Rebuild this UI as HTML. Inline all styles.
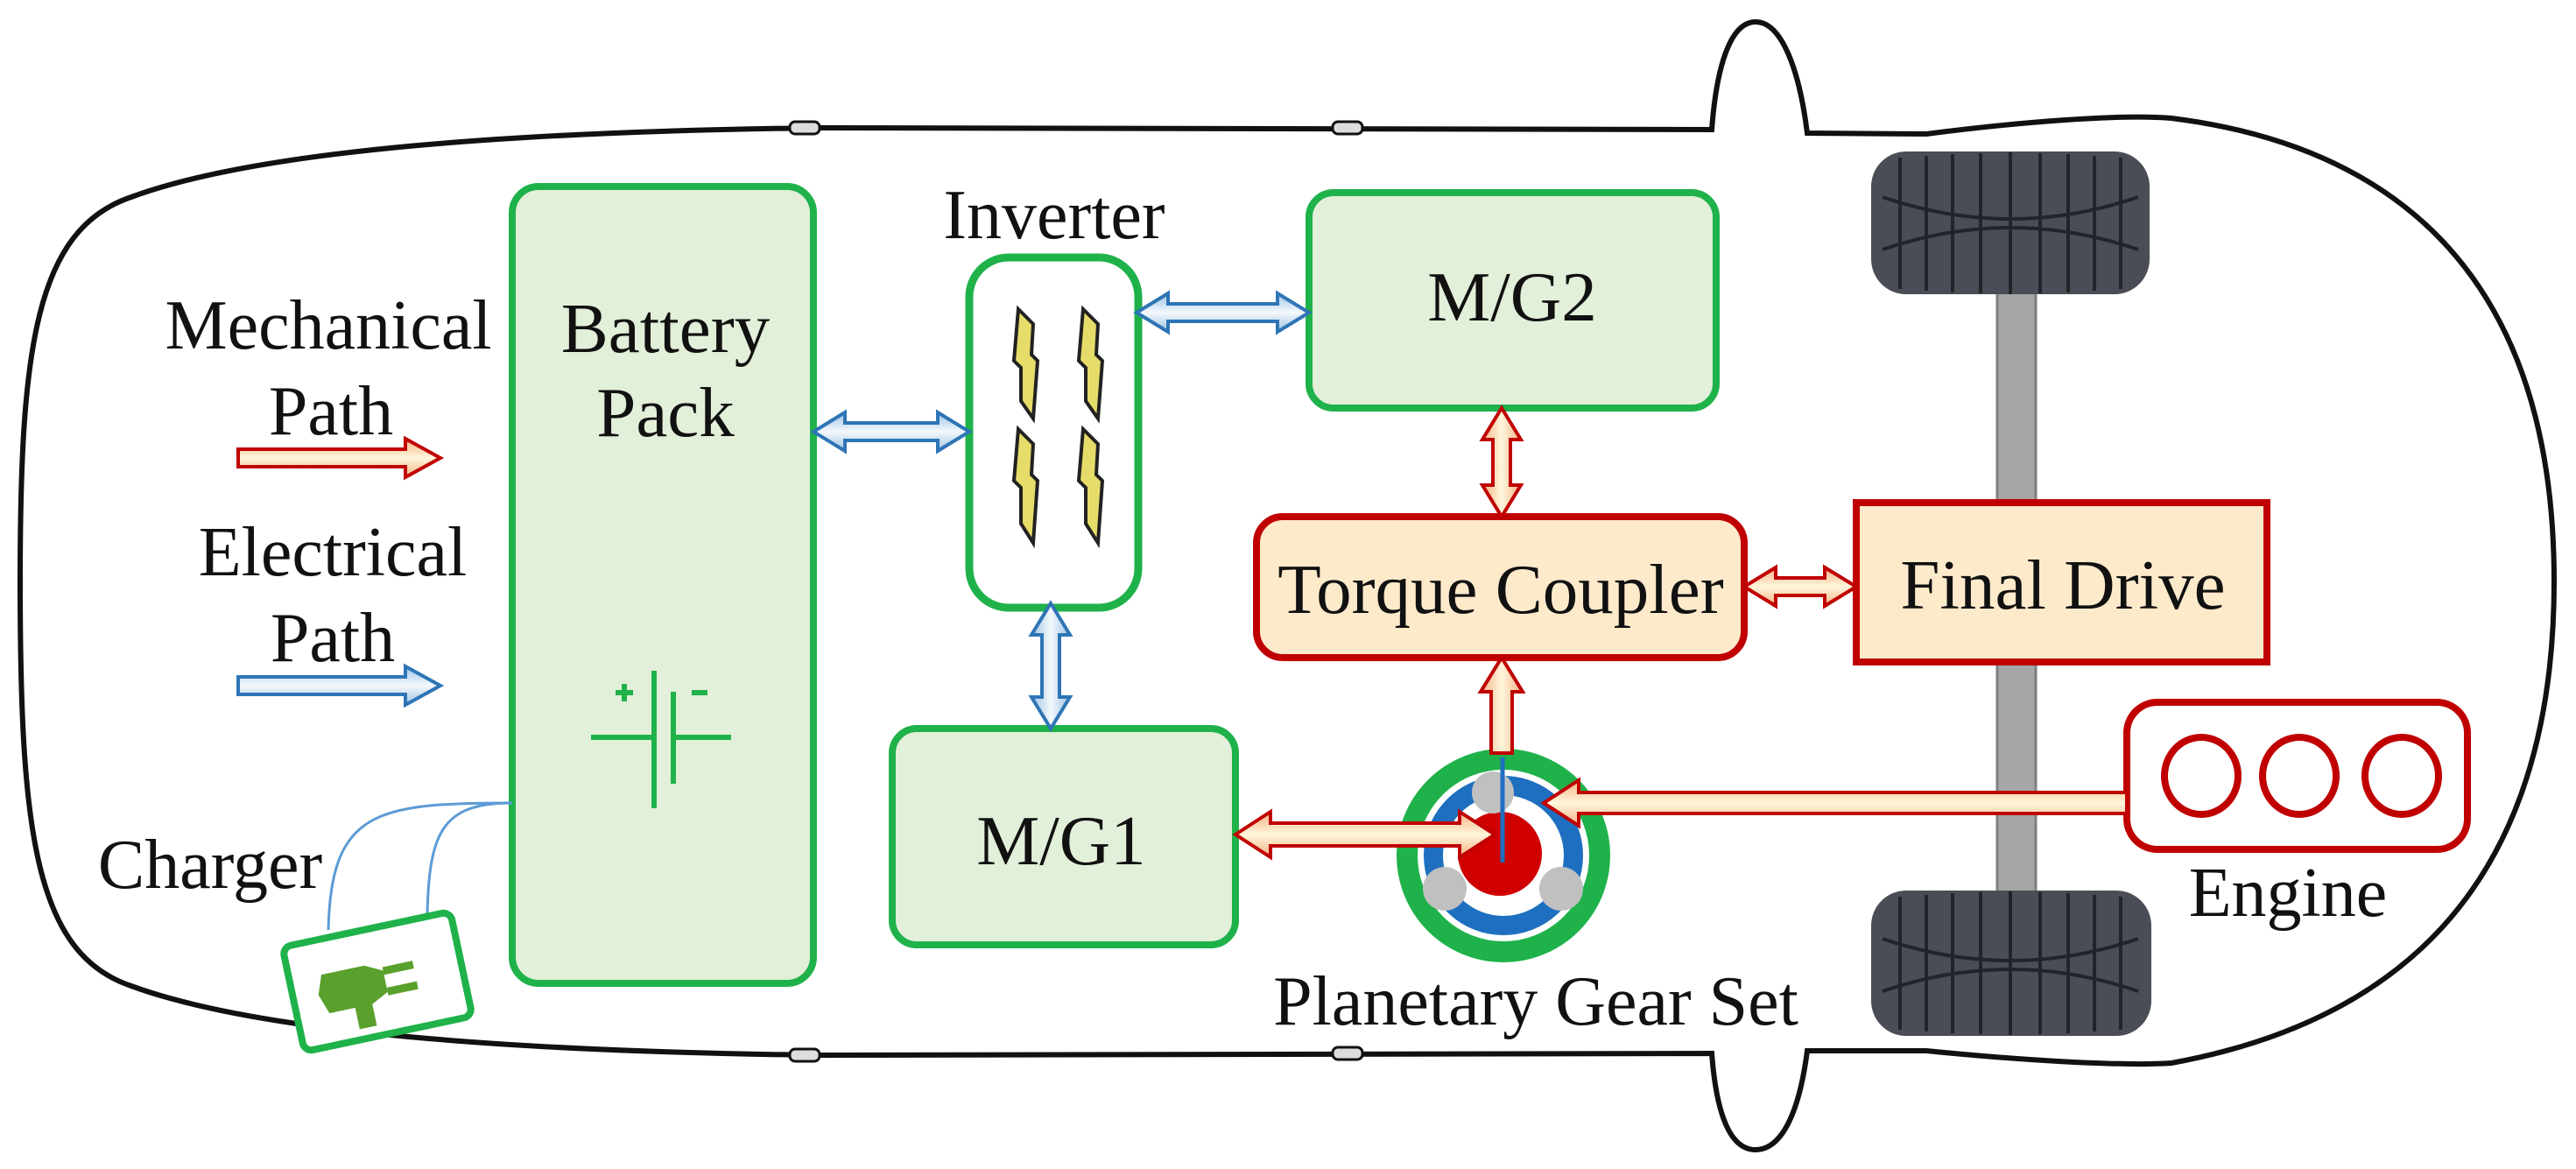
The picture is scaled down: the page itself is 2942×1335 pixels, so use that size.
<!DOCTYPE html>
<html><head><meta charset="utf-8"><style>
html,body{margin:0;padding:0;background:#fff;}
svg{display:block;}
text{font-family:"Liberation Serif",serif;fill:#111;}
</style></head><body>
<svg width="2942" height="1335" viewBox="0 0 2942 1335" xmlns="http://www.w3.org/2000/svg">
<defs>
<linearGradient id="bg" x1="0" y1="0" x2="0" y2="1"><stop offset="0" stop-color="#9dc3e6"/><stop offset="0.5" stop-color="#f4f8fc"/><stop offset="1" stop-color="#9dc3e6"/></linearGradient>
<linearGradient id="bgv" x1="0" y1="0" x2="1" y2="0"><stop offset="0" stop-color="#9dc3e6"/><stop offset="0.5" stop-color="#f4f8fc"/><stop offset="1" stop-color="#9dc3e6"/></linearGradient>
<linearGradient id="rg" x1="0" y1="0" x2="0" y2="1"><stop offset="0" stop-color="#f4b183"/><stop offset="0.5" stop-color="#fff6dc"/><stop offset="1" stop-color="#f4b183"/></linearGradient>
<linearGradient id="rgv" x1="0" y1="0" x2="1" y2="0"><stop offset="0" stop-color="#f4b183"/><stop offset="0.5" stop-color="#fff6dc"/><stop offset="1" stop-color="#f4b183"/></linearGradient>
</defs>

<!-- car outline -->
<path d="M23 664 C23 400 40 262 150 225 C300 170 600 150 938 146 L1955 148 C1960 80 1975 25 2005 25 C2035 25 2055 80 2064 152 L2200 153 C2300 140 2420 130 2480 135 C2720 165 2917 300 2917 664 C2917 1030 2720 1170 2480 1214 C2420 1218 2300 1210 2200 1200 L2064 1200 C2055 1270 2035 1313 2005 1313 C1975 1313 1960 1270 1955 1203 L938 1205 C600 1201 300 1181 150 1126 C40 1089 23 950 23 664 Z" fill="#fff" stroke="#111" stroke-width="6"/>
<g fill="#ddd" stroke="#111" stroke-width="3">
<rect x="902" y="139" width="34" height="14" rx="6"/><rect x="1522" y="139" width="34" height="14" rx="6"/>
<rect x="902" y="1198" width="34" height="14" rx="6"/><rect x="1522" y="1196" width="34" height="14" rx="6"/>
</g>

<!-- wheels and axle -->
<rect x="2281" y="320" width="44" height="710" fill="#a6a6a6" stroke="#7f7f7f" stroke-width="3"/>
<g>
<rect x="2137" y="173" width="318" height="163" rx="40" fill="#4a4d55"/>
<rect x="2137" y="1017" width="320" height="166" rx="40" fill="#4a4d55"/>
<g stroke="#22242a" stroke-width="4" fill="none">
<path d="M2150 225 Q2296 275 2442 225 M2150 285 Q2296 235 2442 285"/>
<path d="M2170 180 L2170 330 M2200 178 L2200 332 M2230 176 L2230 334 M2262 175 L2262 335 M2296 174 L2296 336 M2330 175 L2330 335 M2362 176 L2362 334 M2392 178 L2392 332 M2422 180 L2422 330"/>
<path d="M2150 1072 Q2296 1122 2442 1072 M2150 1132 Q2296 1082 2442 1132"/>
<path d="M2170 1024 L2170 1176 M2200 1022 L2200 1178 M2230 1020 L2230 1180 M2262 1019 L2262 1181 M2296 1018 L2296 1182 M2330 1019 L2330 1181 M2362 1020 L2362 1180 M2392 1022 L2392 1178 M2422 1024 L2422 1176"/>
</g>
</g>

<!-- Battery -->
<rect x="585" y="213" width="344" height="910" rx="30" fill="#e2efd9" stroke="#1fb24a" stroke-width="8"/>
<text x="760" y="402" font-size="81" text-anchor="middle">Battery</text>
<text x="760" y="498" font-size="81" text-anchor="middle">Pack</text>
<g stroke="#1fb24a" stroke-width="6" fill="none">
<line x1="675" y1="842" x2="747" y2="842"/><line x1="769" y1="842" x2="835" y2="842"/>
<line x1="747" y1="766" x2="747" y2="923"/><line x1="769" y1="790" x2="769" y2="895"/>
<line x1="703" y1="791" x2="723" y2="791"/><line x1="713" y1="781" x2="713" y2="801"/>
<line x1="790" y1="791" x2="808" y2="791"/>
</g>

<!-- Inverter -->
<text x="1204" y="272" font-size="80" text-anchor="middle">Inverter</text>
<rect x="1107" y="294" width="193" height="400" rx="45" fill="#fff" stroke="#1fb24a" stroke-width="9"/>
<g fill="#e6dc6a" stroke="#222" stroke-width="4">
<path d="M1163 353 L1180 370 L1178 405 L1185 412 L1180 478 L1166 458 L1166 420 L1158 412 Z"/>
<path d="M1237 353 L1254 370 L1252 405 L1259 412 L1254 478 L1240 458 L1240 420 L1232 412 Z"/>
<path d="M1163 490 L1180 507 L1178 542 L1185 549 L1180 620 L1166 598 L1166 557 L1158 549 Z"/>
<path d="M1237 490 L1254 507 L1252 542 L1259 549 L1254 620 L1240 598 L1240 557 L1232 549 Z"/>
</g>

<!-- M/G2 -->
<rect x="1495" y="220" width="465" height="246" rx="28" fill="#e2efd9" stroke="#1fb24a" stroke-width="8"/>
<text x="1727" y="366" font-size="81" text-anchor="middle">M/G2</text>
<!-- M/G1 -->
<rect x="1019" y="832" width="392" height="247" rx="28" fill="#e2efd9" stroke="#1fb24a" stroke-width="8"/>
<text x="1212" y="987" font-size="81" text-anchor="middle">M/G1</text>

<!-- Torque coupler -->
<rect x="1435" y="590" width="557" height="161" rx="30" fill="#fdeacb" stroke="#c00000" stroke-width="8"/>
<text x="1714" y="700" font-size="81" text-anchor="middle">Torque Coupler</text>
<!-- Final drive -->
<rect x="2120" y="574" width="469" height="182" fill="#fdeacb" stroke="#c00000" stroke-width="8"/>
<text x="2356" y="695" font-size="81" text-anchor="middle">Final Drive</text>

<!-- Engine -->
<rect x="2429" y="802" width="389" height="168" rx="35" fill="#fff" stroke="#c00000" stroke-width="8"/>
<g fill="#fff" stroke="#c00000" stroke-width="8">
<ellipse cx="2514" cy="886" rx="42" ry="44"/><ellipse cx="2626" cy="886" rx="42" ry="44"/><ellipse cx="2743" cy="886" rx="42" ry="44"/>
</g>
<text x="2613" y="1046" font-size="80" text-anchor="middle">Engine</text>

<!-- Planetary gear -->
<circle cx="1717" cy="977" r="110" fill="#fff" stroke="#1fb24a" stroke-width="24"/>
<circle cx="1717" cy="977" r="80" fill="none" stroke="#1f6fc0" stroke-width="22"/>
<circle cx="1713" cy="975" r="48" fill="#d00000"/>
<circle cx="1705" cy="905" r="24" fill="#c0c0c0"/>
<circle cx="1650" cy="1015" r="25" fill="#c0c0c0"/>
<circle cx="1783" cy="1015" r="25" fill="#c0c0c0"/>
<line x1="1716" y1="865" x2="1716" y2="985" stroke="#1f6fc0" stroke-width="5"/>
<text x="1754" y="1170" font-size="80" text-anchor="middle">Planetary Gear Set</text>

<!-- blue arrows -->
<g fill="url(#bg)" stroke="#2e75b6" stroke-width="4" stroke-linejoin="miter">
<polygon points="929,493 965,471 965,483 1071,483 1071,471 1107,493 1071,515 1071,503 965,503 965,515"/>
<polygon points="1298,357 1334,335 1334,347 1459,347 1459,335 1495,357 1459,379 1459,367 1334,367 1334,379"/>
<polygon points="272,773 463,773 463,761 503,783 463,805 463,793 272,793"/>
</g>
<polygon fill="url(#bgv)" stroke="#2e75b6" stroke-width="4" points="1200,689 1222,725 1210,725 1210,796 1222,796 1200,832 1178,796 1190,796 1190,725 1178,725"/>

<!-- red arrows -->
<g fill="url(#rg)" stroke="#c00000" stroke-width="4">
<polygon points="1992,670 2028,648 2028,660 2084,660 2084,648 2120,670 2084,692 2084,680 2028,680 2028,692"/>
<polygon points="1411,953 1451,927 1451,940 1667,940 1667,927 1707,953 1667,979 1667,966 1451,966 1451,979"/>
<polygon points="1763,917 1803,891 1803,905 2429,905 2429,929 1803,929 1803,943"/>
<polygon points="272,513 463,513 463,501 503,523 463,545 463,533 272,533"/>
</g>
<g fill="url(#rgv)" stroke="#c00000" stroke-width="4">
<polygon points="1715,466 1737,502 1725,502 1725,554 1737,554 1715,590 1693,554 1705,554 1705,502 1693,502"/>
<polygon points="1715,751 1739,790 1727,790 1727,860 1703,860 1703,790 1691,790"/>
</g>

<!-- legend text -->
<text x="375" y="398" font-size="80" text-anchor="middle">Mechanical</text>
<text x="378" y="496" font-size="80" text-anchor="middle">Path</text>
<text x="380" y="657" font-size="80" text-anchor="middle">Electrical</text>
<text x="380" y="755" font-size="80" text-anchor="middle">Path</text>

<!-- charger -->
<text x="240" y="1014" font-size="80" text-anchor="middle">Charger</text>
<g stroke="#5b9bd5" stroke-width="3" fill="none">
<path d="M585 917 C430 917 378 925 375 1062"/>
<path d="M585 917 C505 917 490 950 488 1045"/>
</g>
<g transform="rotate(-12 431 1121)">
<rect x="333" y="1060" width="196" height="122" rx="10" fill="#fff" stroke="#1fb24a" stroke-width="8"/>
<g fill="#5aa02c">
<path d="M370 1100 L420 1100 L440 1110 L440 1135 L420 1145 L370 1145 L362 1122 Z"/>
<rect x="440" y="1106" width="35" height="9"/><rect x="440" y="1130" width="35" height="9"/>
<rect x="400" y="1140" width="20" height="30"/>
</g>
</g>
</svg>
</body></html>
